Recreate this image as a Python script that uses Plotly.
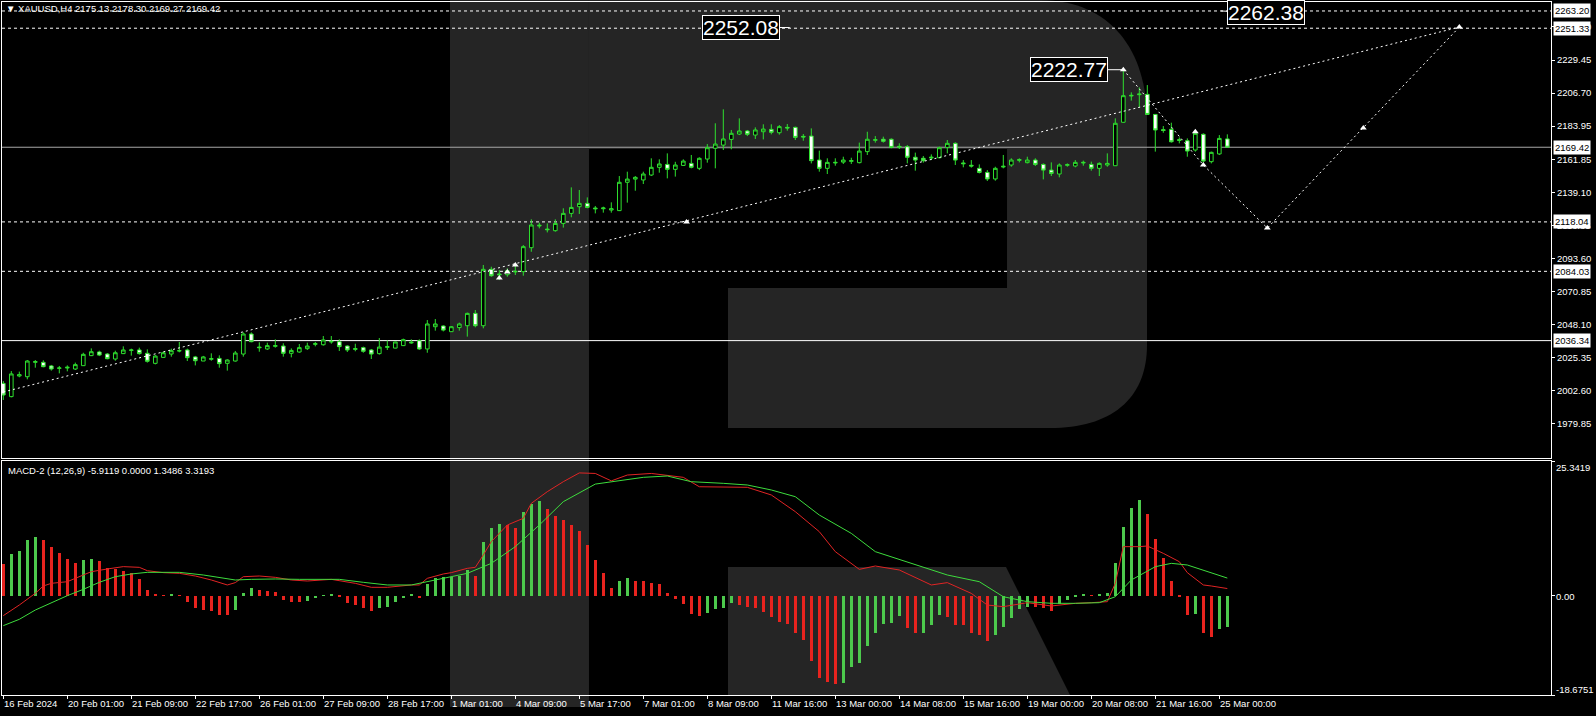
import plotly.graph_objects as go

W, H = 1596, 716
ML, MR, MT, MB = 2, 45, 2, 21
PW, PH = W - ML - MR, H - MT - MB

# ---------------- data ----------------
bars = list(range(154))
opens = [2006.9, 1997.8, 2012.0, 2011.5, 2021.4, 2021.4, 2018.9, 2017.3, 2017.5, 2016.8,
         2019.1, 2026.0, 2028.5, 2027.1, 2023.7, 2027.4, 2029.6, 2029.9, 2027.6, 2020.7,
         2024.8, 2027.1, 2029.2, 2029.9, 2025.1, 2022.3, 2023.5, 2024.1, 2020.7, 2022.3,
         2027.1, 2040.9, 2031.9, 2030.6, 2032.4, 2032.6, 2027.6, 2028.5, 2030.8, 2033.8,
         2033.5, 2035.4, 2035.6, 2032.6, 2030.3, 2031.5, 2029.9, 2027.4, 2031.7, 2031.2,
         2032.9, 2034.7, 2036.3, 2030.6, 2045.9, 2046.4, 2042.5, 2045.3, 2046.6, 2055.1,
         2046.6, 2085.4, 2082.2, 2081.7, 2083.6, 2083.8, 2100.3, 2115.2, 2113.1, 2112.0,
         2117.0, 2123.9, 2128.5, 2130.8, 2127.6, 2127.1, 2126.2, 2125.8, 2145.3, 2147.5,
         2146.9, 2150.3, 2155.6, 2157.6, 2154.2, 2156.9, 2158.3, 2154.9, 2161.3, 2168.7,
         2170.9, 2174.8, 2178.5, 2180.6, 2177.8, 2180.1, 2181.7, 2179.4, 2183.1, 2183.1,
         2176.9, 2177.1, 2160.6, 2154.9, 2158.6, 2159.2, 2159.7, 2158.8, 2166.4, 2174.2,
         2174.9, 2174.9, 2170.0, 2169.8, 2162.5, 2161.8, 2162.0, 2162.2, 2169.3, 2172.1,
         2158.6, 2157.0, 2154.9, 2152.1, 2147.6, 2155.8, 2157.2, 2160.4, 2158.8, 2160.6,
         2157.6, 2153.7, 2151.0, 2157.0, 2156.5, 2158.6, 2157.6, 2154.9, 2157.2, 2156.7,
         2186.6, 2204.7, 2205.6, 2205.8, 2192.0, 2181.5, 2181.7, 2174.6, 2173.9, 2167.5,
         2178.3, 2159.5, 2164.8, 2175.13]
highs = [2008.5, 2015.4, 2015.0, 2023.0, 2023.0, 2022.8, 2019.6, 2018.9, 2019.3, 2021.2,
         2028.0, 2031.0, 2029.4, 2027.8, 2029.4, 2032.4, 2030.8, 2031.5, 2030.3, 2026.4,
         2028.7, 2030.8, 2035.4, 2030.8, 2025.8, 2025.8, 2027.6, 2026.2, 2023.5, 2029.2,
         2042.0, 2042.0, 2035.2, 2034.9, 2037.2, 2034.5, 2031.0, 2034.0, 2034.9, 2035.4,
         2039.5, 2039.5, 2037.2, 2033.1, 2034.2, 2032.2, 2030.6, 2038.1, 2036.5, 2035.6,
         2037.7, 2037.2, 2037.2, 2050.5, 2051.2, 2046.9, 2046.4, 2048.7, 2055.6, 2057.4,
         2088.4, 2087.2, 2084.9, 2086.1, 2088.4, 2102.1, 2119.8, 2117.5, 2117.0, 2119.8,
         2127.4, 2141.8, 2140.0, 2134.9, 2129.0, 2128.5, 2131.5, 2149.6, 2152.6, 2149.6,
         2152.6, 2161.8, 2161.1, 2165.2, 2159.4, 2161.1, 2164.1, 2162.5, 2171.6, 2185.9,
         2195.5, 2181.3, 2189.3, 2181.3, 2183.1, 2185.2, 2185.2, 2184.7, 2185.4, 2183.6,
         2178.5, 2182.4, 2167.1, 2161.8, 2161.8, 2162.9, 2162.2, 2172.6, 2180.1, 2177.1,
         2176.7, 2175.5, 2172.1, 2170.9, 2165.7, 2163.4, 2164.5, 2169.8, 2174.4, 2172.8,
         2160.6, 2160.6, 2157.6, 2153.7, 2156.0, 2164.1, 2161.8, 2161.8, 2162.9, 2161.8,
         2158.3, 2159.0, 2158.3, 2158.3, 2160.6, 2160.2, 2159.5, 2159.0, 2165.2, 2189.3,
         2222.77, 2207.2, 2210.6, 2212.2, 2192.3, 2184.0, 2186.3, 2176.2, 2175.5, 2181.3,
         2179.0, 2166.4, 2177.8, 2178.30]
lows = [1995.5, 1997.3, 2011.1, 2009.7, 2017.7, 2018.0, 2015.7, 2013.8, 2015.2, 2016.1,
        2018.9, 2025.7, 2025.7, 2023.5, 2022.5, 2027.1, 2026.0, 2026.7, 2021.2, 2020.0,
        2024.6, 2025.3, 2028.3, 2022.3, 2019.3, 2022.3, 2022.5, 2017.7, 2015.7, 2021.9,
        2025.3, 2035.2, 2028.7, 2029.9, 2031.5, 2025.3, 2024.8, 2028.0, 2029.9, 2032.4,
        2032.9, 2034.2, 2029.2, 2028.5, 2029.0, 2028.0, 2023.7, 2026.7, 2029.9, 2031.0,
        2032.6, 2034.2, 2029.9, 2028.0, 2043.2, 2042.7, 2042.3, 2043.2, 2039.1, 2045.5,
        2044.8, 2080.3, 2078.0, 2080.3, 2081.5, 2081.0, 2097.5, 2113.6, 2110.8, 2111.3,
        2114.1, 2121.2, 2123.5, 2127.4, 2123.9, 2124.4, 2124.4, 2125.5, 2131.3, 2139.5,
        2144.1, 2149.6, 2151.9, 2148.0, 2149.2, 2156.5, 2154.9, 2153.7, 2158.8, 2154.9,
        2167.5, 2168.0, 2177.8, 2177.1, 2175.1, 2174.8, 2178.3, 2178.1, 2180.8, 2174.4,
        2173.9, 2158.3, 2152.6, 2151.0, 2156.7, 2157.9, 2157.9, 2158.3, 2164.1, 2172.6,
        2172.6, 2168.7, 2168.2, 2158.3, 2153.3, 2158.8, 2160.6, 2161.8, 2165.2, 2157.2,
        2155.6, 2155.4, 2151.4, 2146.2, 2146.4, 2154.9, 2156.0, 2159.0, 2158.3, 2156.5,
        2147.3, 2149.6, 2148.7, 2156.0, 2155.6, 2156.7, 2153.3, 2149.6, 2156.0, 2156.5,
        2186.3, 2201.5, 2196.9, 2191.6, 2166.4, 2179.4, 2172.6, 2172.1, 2162.9, 2166.4,
        2158.8, 2158.3, 2164.1, 2169.27]
closes = [1998.9, 2013.4, 2012.9, 2022.3, 2021.9, 2018.4, 2016.8, 2017.5, 2018.0, 2019.8,
          2026.9, 2028.7, 2026.4, 2023.9, 2028.0, 2029.9, 2029.9, 2027.4, 2022.1, 2025.7,
          2028.0, 2029.4, 2029.4, 2024.6, 2022.5, 2025.1, 2023.9, 2020.5, 2023.0, 2027.8,
          2040.9, 2035.6, 2031.5, 2032.9, 2032.9, 2027.6, 2029.6, 2031.5, 2032.6, 2034.2,
          2036.8, 2035.8, 2032.2, 2029.9, 2030.8, 2029.0, 2027.1, 2031.9, 2032.2, 2035.4,
          2037.0, 2035.2, 2030.6, 2047.8, 2047.8, 2043.6, 2045.9, 2047.8, 2055.1, 2046.6,
          2085.4, 2081.0, 2081.7, 2084.5, 2084.0, 2101.0, 2115.9, 2115.7, 2112.7, 2117.0,
          2123.9, 2128.0, 2130.8, 2128.0, 2127.1, 2127.6, 2127.1, 2145.3, 2147.5, 2148.7,
          2151.0, 2155.6, 2157.9, 2154.2, 2157.2, 2159.9, 2155.6, 2161.8, 2169.1, 2171.6,
          2175.1, 2179.0, 2180.6, 2178.3, 2181.3, 2181.9, 2179.7, 2183.6, 2182.7, 2176.2,
          2176.5, 2160.2, 2154.9, 2159.0, 2159.0, 2160.6, 2160.2, 2166.8, 2174.9, 2174.6,
          2173.5, 2169.3, 2169.6, 2162.5, 2160.6, 2160.2, 2162.5, 2169.1, 2172.1, 2160.6,
          2158.1, 2156.5, 2152.1, 2147.6, 2154.9, 2156.3, 2160.6, 2160.9, 2160.6, 2157.6,
          2153.7, 2151.4, 2157.2, 2157.4, 2159.0, 2159.0, 2154.9, 2158.3, 2158.3, 2185.9,
          2204.9, 2205.1, 2206.0, 2192.0, 2181.3, 2181.0, 2173.2, 2174.2, 2166.8, 2179.0,
          2159.9, 2165.9, 2175.5, 2169.42]

macd_hist = [5.97, 7.85, 8.47, 10.48, 10.98, 10.48, 9.10, 7.97, 6.91, 6.09,
             6.72, 6.91, 6.53, 5.28, 5.03, 4.65, 4.21, 3.15, 1.08, 0.26,
             0.13, 0.18, 0.10, -1.13, -2.26, -2.70, -2.89, -3.64, -3.70, -2.70,
             0.44, 1.44, 1.08, 0.88, 0.63, -0.82, -1.13, -1.15, -0.94, -0.50,
             0.05, 0.20, -0.30, -1.32, -1.76, -2.38, -2.82, -2.38, -2.07, -1.13,
             -0.38, 0.26, -0.50, 2.14, 3.40, 3.50, 3.55, 3.65, 4.84, 3.71,
             10.17, 12.68, 13.49, 13.30, 12.68, 15.81, 17.19, 17.82, 16.31, 15.06,
             14.24, 13.30, 12.24, 9.54, 6.72, 4.34, 1.52, 2.77, 3.40, 2.77,
             2.70, 2.46, 2.21, 0.57, -0.63, -1.56, -3.45, -3.76, -3.32, -2.57,
             -2.26, -1.44, -1.76, -2.07, -2.38, -3.13, -3.94, -4.88, -5.32, -7.07,
             -8.33, -12.21, -15.54, -16.30, -16.60, -16.40, -13.35, -12.72, -9.46, -6.95,
             -5.32, -5.19, -3.75, -6.01, -7.08, -6.95, -5.51, -3.60, -4.00, -5.50,
             -5.60, -7.08, -7.40, -8.50, -7.30, -5.80, -4.25, -2.57, -2.07, -2.20,
             -2.40, -2.90, -1.60, -0.82, -0.20, 0.25, 0.10, 0.30, 0.45, 6.09,
             12.86, 16.44, 18.00, 15.37, 10.61, 7.03, 2.77, -0.20, -3.63, -3.50,
             -6.95, -7.70, -6.26, -5.91]

macd_main_x = [0, 2, 4, 5, 6, 8, 10, 11, 13, 15, 17, 18, 20, 22, 24, 26, 28, 29, 30, 32,
               34, 36, 38, 41, 44, 46, 48, 51, 52, 53, 55, 56, 58, 59, 60, 61, 63, 65, 66, 68,
               70, 72, 74, 76, 78, 81, 85, 87, 93, 96, 99, 102, 104, 107, 109, 112, 116, 118, 121, 123,
               125, 128, 131, 134, 136, 138, 139, 140, 142, 143, 145, 147, 148, 150, 151, 153]
macd_main = [-3.75, -1.75, 0.45, 1.83, 2.33, 2.64, 3.90, 4.52, 5.03, 5.47, 5.34, 4.71, 4.34, 4.21, 3.71, 2.96, 2.02, 2.46, 3.58, 3.71,
             3.46, 2.96, 2.77, 3.08, 2.33, 1.58, 1.58, 2.02, 2.02, 3.27, 4.09, 4.34, 5.15, 5.34, 7.66, 10.17, 13.30, 14.56, 17.38, 19.57,
             21.45, 23.10, 23.00, 21.60, 22.70, 23.00, 22.27, 20.50, 20.39, 18.95, 15.81, 12.05, 8.29, 4.96, 5.59, 4.84, 2.02, 2.46, 0.44, -1.75,
             -2.06, -1.31, -1.93, -1.43, -1.31, -1.12, 2.33, 9.23, 9.23, 9.35, 7.97, 6.40, 4.34, 2.02, 1.83, 1.35]
macd_signal_x = [0, 2, 4, 6, 8, 10, 12, 14, 16, 18, 22, 25, 27, 29, 31, 34, 37, 40, 42, 45,
                 48, 51, 52, 54, 55, 58, 61, 64, 67, 70, 74, 76, 80, 83, 86, 90, 93, 96, 99, 102,
                 106, 109, 112, 115, 118, 122, 125, 128, 131, 134, 137, 139, 141, 144, 146, 148, 150, 153]
macd_signal = [-5.63, -4.44, -2.69, -1.31, 0.01, 1.20, 2.52, 3.58, 4.09, 4.40, 4.40, 3.90, 3.40, 2.96, 3.08, 3.15, 3.08, 3.15, 3.08, 2.52,
               2.02, 2.02, 2.33, 2.90, 3.27, 4.21, 6.09, 9.23, 13.30, 17.69, 21.00, 21.45, 22.27, 22.52, 21.45, 21.14, 20.83, 19.89, 18.63, 15.18,
               11.73, 8.29, 6.85, 5.46, 3.90, 2.64, -0.19, -1.12, -1.43, -1.43, -1.31, -0.19, 2.96, 5.46, 6.09, 5.78, 4.84, 3.32]

date_labels = ["16 Feb 2024", "20 Feb 01:00", "21 Feb 09:00", "22 Feb 17:00", "26 Feb 01:00",
               "27 Feb 09:00", "28 Feb 17:00", "1 Mar 01:00", "4 Mar 09:00", "5 Mar 17:00",
               "7 Mar 01:00", "8 Mar 09:00", "11 Mar 16:00", "13 Mar 00:00", "14 Mar 08:00",
               "15 Mar 16:00", "19 Mar 00:00", "20 Mar 08:00", "21 Mar 16:00", "25 Mar 00:00"]
date_bars = [8 * k for k in range(len(date_labels))]

price_ticks = [2252.20, 2229.45, 2206.70, 2183.95, 2161.20, 2138.45, 2115.70, 2092.95, 2070.20, 2047.45, 2024.70, 2001.95, 1979.20]
price_tick_text = ["2252.20", "2229.45", "2206.70", "2183.95", "2161.85", "2139.10", "2116.35", "2093.60", "2070.85", "2048.10", "2025.35", "2002.60", "1979.85"]

dashed_levels = [2263.20, 2251.33, 2118.04, 2084.03]
support_level = 2036.34
current_price = 2169.42

trend_x = [0, 182]
trend_y = [2001.0, 2252.08]
zigzag_x = [140, 150, 158, 170, 182]
zigzag_y = [2222.77, 2157.2, 2113.8, 2182.7, 2252.08]
marker_x = [140, 149, 150, 158, 170, 182, 62, 63, 64, 85.4]
marker_y = [2222.77, 2180.0, 2157.2, 2113.8, 2182.7, 2252.08, 2079.4, 2083.5, 2088.4, 2117.9]

PRICE_RANGE = [1955.56, 2269.37]
MACD_RANGE = [-18.6751, 25.3419]
X_RANGE = [-0.1625, 193.46]

# ---------------- helpers ----------------
def px_x(px):
    return (px - ML) / PW

def px_y(py):
    return (H - MB - py) / PH

def P(x, y):
    return f"{px_x(x):.5f},{px_y(y):.5f}"

GREEN = "#2fe02f"
fig = go.Figure()

# watermark logo (decoration)
logo_col = "#252525"
paths = [
    f"M{P(450,0)} L{P(589,0)} L{P(589,707)} L{P(450,707)} Z",
    f"M{P(589,0)} L{P(1040,0)} C{P(1110,0)} {P(1147,50)} {P(1147,120)} L{P(1147,149)} L{P(589,149)} Z",
    f"M{P(1007,148)} L{P(1147,148)} L{P(1147,289)} L{P(1007,289)} Z",
    f"M{P(728,288)} L{P(1147,288)} L{P(1147,345)} C{P(1147,400)} {P(1110,428)} {P(1050,428)} L{P(728,428)} Z",
    f"M{P(728,567)} L{P(1006,567)} L{P(1070,695)} L{P(728,695)} Z",
]
shapes = [dict(type="path", path=p, xref="paper", yref="paper", fillcolor=logo_col,
               line=dict(width=0), layer="below") for p in paths]

for lv in dashed_levels:
    shapes.append(dict(type="line", xref="paper", x0=0, x1=1, yref="y", y0=lv, y1=lv,
                       line=dict(color="white", width=1, dash="3px,3px"), layer="below"))
shapes.append(dict(type="line", xref="paper", x0=0, x1=1, yref="y", y0=support_level, y1=support_level,
                   line=dict(color="white", width=1), layer="below"))
shapes.append(dict(type="line", xref="paper", x0=0, x1=1, yref="y", y0=current_price, y1=current_price,
                   line=dict(color="#a8a8a8", width=1), layer="below"))

# candles
fig.add_trace(go.Candlestick(
    x=bars, open=opens, high=highs, low=lows, close=closes,
    increasing=dict(line=dict(color=GREEN, width=1), fillcolor="#000000"),
    decreasing=dict(line=dict(color=GREEN, width=1), fillcolor="#ffffff"),
    whiskerwidth=0, xaxis="x", yaxis="y", showlegend=False, hoverinfo="skip"))

# trend lines
fig.add_trace(go.Scatter(x=trend_x, y=trend_y, mode="lines",
                         line=dict(color="white", width=1, dash="2px,3px"), xaxis="x", yaxis="y",
                         showlegend=False, hoverinfo="skip"))
fig.add_trace(go.Scatter(x=zigzag_x, y=zigzag_y, mode="lines",
                         line=dict(color="white", width=1, dash="2px,3px"), xaxis="x", yaxis="y",
                         showlegend=False, hoverinfo="skip"))
fig.add_trace(go.Scatter(x=marker_x, y=marker_y, mode="markers",
                         marker=dict(symbol="triangle-up", size=6, color="white"), xaxis="x", yaxis="y",
                         showlegend=False, hoverinfo="skip"))

# MACD histogram
hist_colors = ["#e8231e"] + ["#4cc94c" if macd_hist[i] > macd_hist[i - 1] else "#e8231e"
                             for i in range(1, len(macd_hist))]
fig.add_trace(go.Bar(x=bars, y=macd_hist, marker=dict(color=hist_colors, line=dict(width=0)),
                     width=0.4, xaxis="x2", yaxis="y2", showlegend=False, hoverinfo="skip"))
fig.add_trace(go.Scatter(x=macd_main_x, y=macd_main, mode="lines",
                         line=dict(color="#e02424", width=1), xaxis="x2", yaxis="y2",
                         showlegend=False, hoverinfo="skip"))
fig.add_trace(go.Scatter(x=macd_signal_x, y=macd_signal, mode="lines",
                         line=dict(color="#3ddc3d", width=1), xaxis="x2", yaxis="y2",
                         showlegend=False, hoverinfo="skip"))

FONT = "Liberation Sans, Arial, sans-serif"
ann = []
# date labels
for b, t in zip(date_bars, date_labels):
    ann.append(dict(x=b, xref="x2", y=px_y(703), yref="paper", text=t, showarrow=False,
                    xanchor="left", yanchor="middle", xshift=-1,
                    font=dict(family=FONT, size=9.5, color="white")))
# MACD axis labels
for txt, py in [("25.3419", 467), ("0.00", 596), ("-18.6751", 689)]:
    ann.append(dict(x=px_x(1554), xref="paper", y=px_y(py), yref="paper", text=txt, showarrow=False,
                    xanchor="left", yanchor="middle", font=dict(family=FONT, size=9.5, color="white")))
# boxed price labels
for lv in dashed_levels + [current_price, support_level]:
    ann.append(dict(x=px_x(1553), xref="paper", y=lv, yref="y", text=f"{lv:.2f}", showarrow=False,
                    xanchor="left", yanchor="middle", bgcolor="white", borderpad=1,
                    font=dict(family=FONT, size=9.5, color="black")))
# header texts
ann.append(dict(x=px_x(4), xref="paper", y=px_y(9), yref="paper",
                text="▼ XAUUSD,H4 2175.13 2178.30 2169.27 2169.42", showarrow=False,
                xanchor="left", yanchor="middle", font=dict(family=FONT, size=9.5, color="white")))
ann.append(dict(x=px_x(6), xref="paper", y=px_y(470), yref="paper",
                text="MACD-2 (12,26,9) -5.9119 0.0000 1.3486 3.3193", showarrow=False,
                xanchor="left", yanchor="middle", font=dict(family=FONT, size=9.5, color="white")))
# big level labels
for txt, bx, by, ax, ay in [("2222.77", 140, 2222.77, -54, 0),
                            ("2262.38", 152.2, 2263.2, 45, 2),
                            ("2252.08", 98.3, 2251.8, -49, 0)]:
    ann.append(dict(x=bx, xref="x", y=by, yref="y", text=txt, showarrow=True, arrowhead=0,
                    arrowwidth=1, arrowcolor="white", ax=ax, ay=ay, bgcolor="black",
                    bordercolor="white", borderwidth=1, borderpad=0,
                    font=dict(family=FONT, size=21, color="white")))

axis_common = dict(showgrid=False, zeroline=False, showline=True, mirror=True,
                   linecolor="white", linewidth=1)
fig.update_layout(
    width=W, height=H, margin=dict(l=ML, r=MR, t=MT, b=MB),
    paper_bgcolor="#000000", plot_bgcolor="rgba(0,0,0,0)",
    shapes=shapes, annotations=ann, showlegend=False, bargap=0,
    boxgap=0.35,
    xaxis=dict(domain=[0, 1], anchor="y", range=X_RANGE, showticklabels=False, ticks="",
               rangeslider=dict(visible=False), **axis_common),
    yaxis=dict(domain=[px_y(458), 1], anchor="x", range=PRICE_RANGE, side="right",
               tickvals=price_ticks, ticktext=price_tick_text, ticks="outside", ticklen=3,
               tickcolor="white", tickfont=dict(family=FONT, size=9.5, color="white"), **axis_common),
    xaxis2=dict(domain=[0, 1], anchor="y2", range=X_RANGE, tickvals=date_bars, showticklabels=False,
                ticks="outside", ticklen=3, tickcolor="white", **axis_common),
    yaxis2=dict(domain=[0, px_y(461)], anchor="x2", range=MACD_RANGE, side="right",
                tickvals=[MACD_RANGE[1], 0, MACD_RANGE[0]], showticklabels=False,
                ticks="outside", ticklen=3, tickcolor="white", **axis_common),
)

fig.write_html("out.html", config={"displayModeBar": False},
               post_script="document.body.style.margin='0px';document.body.style.background='#000';")
